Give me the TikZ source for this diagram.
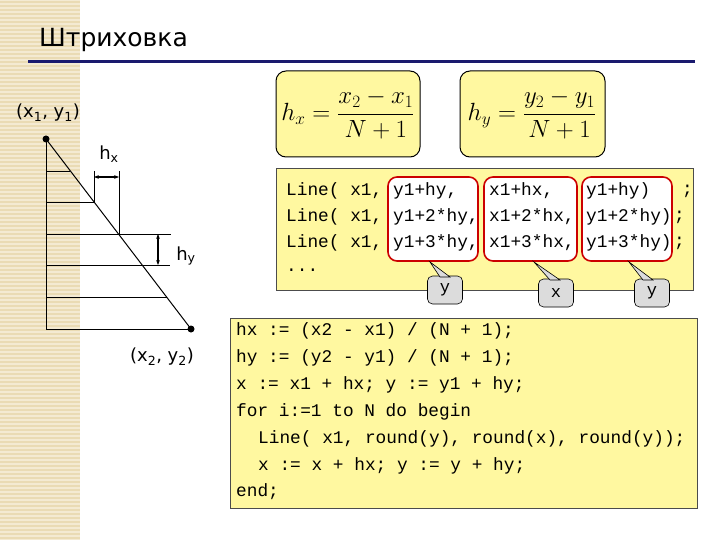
\documentclass[tikz,border=0pt]{standalone}
\usepackage{fontspec}
\setmainfont{Liberation Serif}
\setmonofont{Liberation Mono}
\newfontfamily\vsans{DejaVu Sans}
\usetikzlibrary{arrows.meta}
\definecolor{stripe}{HTML}{EADBB4}
\definecolor{stripel}{HTML}{F4EAD2}
\definecolor{yel}{HTML}{FFF8A0}
\definecolor{navy}{HTML}{1A1A6E}
\definecolor{gr}{HTML}{DCDCDC}
\tikzset{
  fbox/.style={draw=black,line width=1pt,fill=yel,rounded corners=10pt},
  cbox/.style={draw=black!70,line width=0.6pt,fill=yel},
  rbox/.style={draw=red!80!black,line width=1.6pt,fill=white,rounded corners=9pt},
  call/.style={draw=black,line width=0.6pt,fill=gr,rounded corners=5pt,minimum width=35pt,minimum height=28pt,font=\ttfamily\fontsize{17}{17}\selectfont},
  code/.style={anchor=west,inner sep=0pt,font=\ttfamily\fontsize{17.8}{18}\selectfont},
  lab/.style={font=\vsans\fontsize{18}{18}\selectfont},
  thin/.style={line width=0.8pt},
  dim/.style={line width=1.2pt,{Stealth[length=5pt]}-{Stealth[length=5pt]}}
}
\begin{document}
\begin{tikzpicture}[x=1pt,y=-1pt]
\useasboundingbox (0,0) rectangle (720,540);
\fill[white] (0,0) rectangle (720,540);
\fill[stripe] (0,0) rectangle (80,540);
\foreach \i in {0,4,...,540} \draw[stripel,line width=1.2pt] (0,\i) -- (80,\i);
\node[anchor=west,inner sep=0pt,font=\vsans\fontsize{25}{25}\selectfont] (title) at (39,40) {Штриховка};
\draw[navy,line width=3pt] (28,62) -- (695,62);
% triangle figure
\coordinate (p1) at (46,139);
\coordinate (p2) at (191,329);
\draw[thin] (p1) -- (46,329) -- (p2);
\draw[line width=1pt] (p1) -- (p2);
\fill (p1) circle (3.5pt);
\fill (p2) circle (3.5pt);
\draw[thin] (46,171) -- (70,171);
\draw[thin] (46,202) -- (94,202);
\draw[thin] (46,234) -- (171,234);
\draw[thin] (46,265) -- (170,265);
\draw[thin] (46,297) -- (167,297);
\draw[thin] (94,171) -- (94,202);
\draw[thin] (119,171) -- (119,234);
\draw[dim] (94,177) -- (119,177);
\draw[dim] (158,234) -- (158,265);
\node[lab] (hx) at (109,154) {h\textsubscript{x}};
\node[lab] (hy) at (186,256) {h\textsubscript{y}};
\node[lab] (l1) at (48,113) {(x\textsubscript{1}, y\textsubscript{1})};
\node[lab] (l2) at (162,357) {(x\textsubscript{2}, y\textsubscript{2})};
% formula boxes
\draw[fbox] (276,71) rectangle (420,157);
\draw[fbox] (460,71) rectangle (605,157);
\node[font=\fontsize{24}{28}\selectfont] (f1) at (348,114) {$\displaystyle h_x=\frac{x_2-x_1}{N+1}$};
\node[font=\fontsize{24}{28}\selectfont] (f2) at (532,114) {$\displaystyle h_y=\frac{y_2-y_1}{N+1}$};
% code box 1
\draw[cbox] (276,168) rectangle (693,290);
\draw[rbox] (388,177) rectangle (478,261);
\draw[rbox] (484,177) rectangle (577,261);
\draw[rbox] (582,177) rectangle (672,261);
\node[code] (a1) at (286,191) {Line( x1,};
\node[code] (a2) at (286,217) {Line( x1,};
\node[code] (a3) at (286,243) {Line( x1,};
\node[code] (b1) at (393,191) {y1+hy,};
\node[code] (b2) at (393,217) {y1+2*hy,};
\node[code] (b3) at (393,243) {y1+3*hy,};
\node[code] (e1) at (489,191) {x1+hx,};
\node[code] (e2) at (489,217) {x1+2*hx,};
\node[code] (e3) at (489,243) {x1+3*hx,};
\node[code] (g1) at (586,191) {y1+hy)};
\node[code] (g2) at (586,217) {y1+2*hy)};
\node[code] (g3) at (586,243) {y1+3*hy)};
\node[code] (s1) at (682,191) {;};
\node[code] (s2) at (674,217) {;};
\node[code] (s3) at (674,243) {;};
\node[code] (c4) at (286,270) {...};
\node[call] (k1) at (445,290) {y};
\node[call] (k2) at (556,293) {x};
\node[call] (k3) at (652,293) {y};
\draw[line width=0.6pt,fill=gr] (430,262) -- (440,277) -- (450,277) -- cycle;
\draw[line width=0.6pt,fill=gr] (534,262) -- (550,280) -- (560,280) -- cycle;
\draw[line width=0.6pt,fill=gr] (629,262) -- (643,280) -- (653,280) -- cycle;
\fill[gr] (439,277.6) rectangle (451,279);
\fill[gr] (549,280.6) rectangle (561,282);
\fill[gr] (642,280.6) rectangle (654,282);
% code box 2
\draw[cbox] (230,318) rectangle (697,508);
\node[code] (d1) at (236,331) {hx := (x2 - x1) / (N + 1);};
\node[code] (d2) at (236,358) {hy := (y2 - y1) / (N + 1);};
\node[code] (d3) at (236,385) {x := x1 + hx; y := y1 + hy;};
\node[code] (d4) at (236,412) {for i:=1 to N do begin};
\node[code] (d5) at (258,439) {Line( x1, round(y), round(x), round(y));};
\node[code] (d6) at (258,466) {x := x + hx; y := y + hy;};
\node[code] (d7) at (236,492) {end;};
\end{tikzpicture}
\end{document}
